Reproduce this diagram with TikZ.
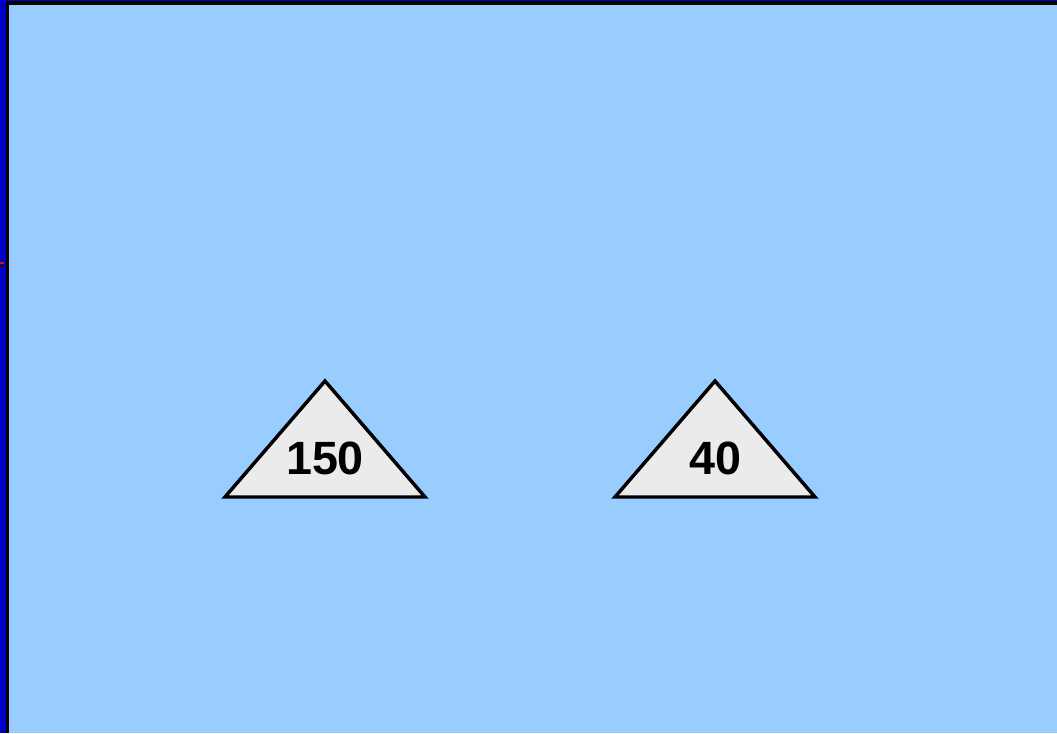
\documentclass[tikz,border=0pt]{standalone}
\usepackage{fontspec}
\setmainfont{Liberation Sans}
\definecolor{paneblue}{HTML}{99CCFF}
\definecolor{frameblue}{HTML}{0000C8}
\definecolor{treegray}{HTML}{EBEBEB}
\tikzset{
  subtree/.style={fill=treegray, draw=black, line width=2.6pt, line join=miter},
  treelabel/.style={inner sep=0pt, font=\fontsize{35}{35}\selectfont\bfseries}
}
\begin{document}
\begin{tikzpicture}[x=0.75pt, y=-0.75pt]
  \useasboundingbox (0,0) rectangle (1057,733);
  % Frame: blue edge, black rule, light pane.
  \fill[frameblue] (0,0) rectangle (1057,733);
  \fill[black] (6,1) rectangle (1057,733);
  \fill[paneblue] (9,4.5) rectangle (1057,733);
  % Small tick on the left edge.
  \fill[red] (0,262) rectangle (4,264);
  \fill[black] (0,264.5) -- (6,266) -- (0,267.5) -- cycle;
  % Subtrees.
  \draw[subtree] (225,497) -- (325,381) -- (425,497) -- cycle;
  \draw[subtree] (615,497) -- (715,381) -- (815,497) -- cycle;
  \node[treelabel] (left) at (325,458) {150};
  \node[treelabel] (right) at (715,458) {40};
\end{tikzpicture}
\end{document}
